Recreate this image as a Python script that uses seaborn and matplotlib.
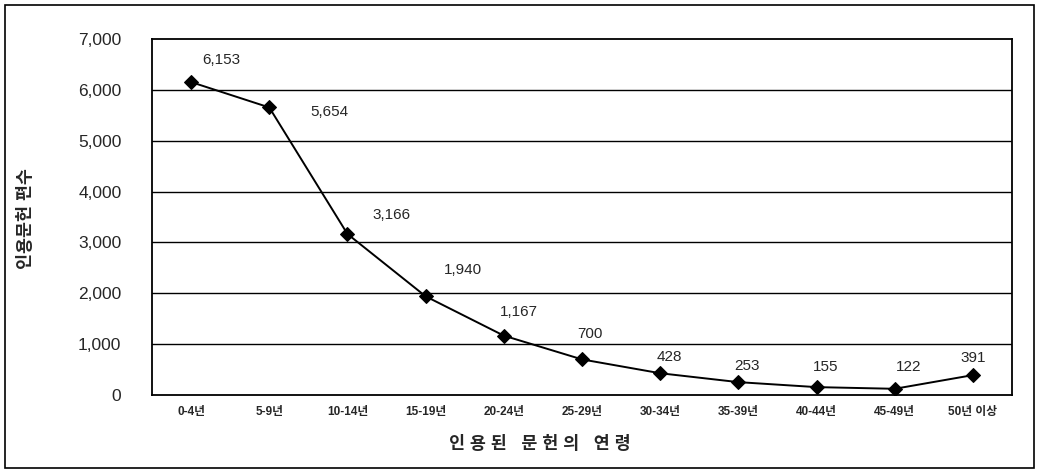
import matplotlib
matplotlib.use("Agg")
import matplotlib.pyplot as plt
import seaborn as sns
import pandas as pd
from matplotlib.patches import Rectangle

categories = ["0-4년", "5-9년", "10-14년", "15-19년", "20-24년", "25-29년",
              "30-34년", "35-39년", "40-44년", "45-49년", "50년 이상"]
counts = [6153, 5654, 3166, 1940, 1167, 700, 428, 253, 155, 122, 391]
yticks = [0, 1000, 2000, 3000, 4000, 5000, 6000, 7000]

# label offsets (points) relative to each marker
label_offsets = [(22, 16), (43, -3), (32, 14), (27, 19), (11, 17), (6, 18),
                 (6.5, 11.5), (6.5, 11.5), (6.5, 14.5), (10, 16), (0, 12)]

sns.set_theme(style="white")
plt.rcParams["font.family"] = ["Liberation Sans", "Noto Sans CJK KR", "DejaVu Sans"]

df = pd.DataFrame({"age": categories, "count": counts, "pos": range(len(categories))})

fig = plt.figure(figsize=(10.37, 4.74), dpi=100)
ax = fig.add_axes([152/1037, 1 - 395/474, (1012-152)/1037, (395-39)/474])

sns.lineplot(data=df, x="pos", y="count", ax=ax, color="black", linewidth=1.4,
             marker="D", markersize=7, markeredgecolor="black", markerfacecolor="black")

ax.set_xlim(-0.5, len(categories) - 0.5)
ax.set_ylim(0, 7000)
ax.set_yticks(yticks)
ax.set_yticklabels([f"{v:,}" for v in yticks], fontsize=12.5)
ax.set_xticks(range(len(categories)))
ax.set_xticklabels(categories, fontsize=8.5, fontweight="bold")
ax.tick_params(axis="x", pad=8, length=0)
ax.tick_params(axis="y", pad=22, length=0)
for y in yticks[1:-1]:
    ax.axhline(y, color="black", linewidth=1.0, zorder=0)
for s in ax.spines.values():
    s.set_color("black")
    s.set_linewidth(1.3)

for i, (v, off) in enumerate(zip(counts, label_offsets)):
    ax.annotate(f"{v:,}", (i, v), xytext=off, textcoords="offset points",
                ha="center", va="center", fontsize=11)

ax.set_xlabel("")
ax.set_ylabel("")
fig.text(540/1037, 1 - 443/474, "인 용 된   문 헌 의   연 령", ha="center", va="center",
         fontsize=12.5, fontweight="bold")
fig.text(25/1037, 1 - 219/474, "인용문헌 편수", rotation=90, ha="center", va="center",
         fontsize=12.5, fontweight="bold")

fig.patches.append(Rectangle((5/1037, 1 - 468/474), (1034-5)/1037, (468-5)/474,
                             transform=fig.transFigure, fill=False,
                             edgecolor="black", linewidth=1.2))

fig.savefig("out.png", dpi=100)
